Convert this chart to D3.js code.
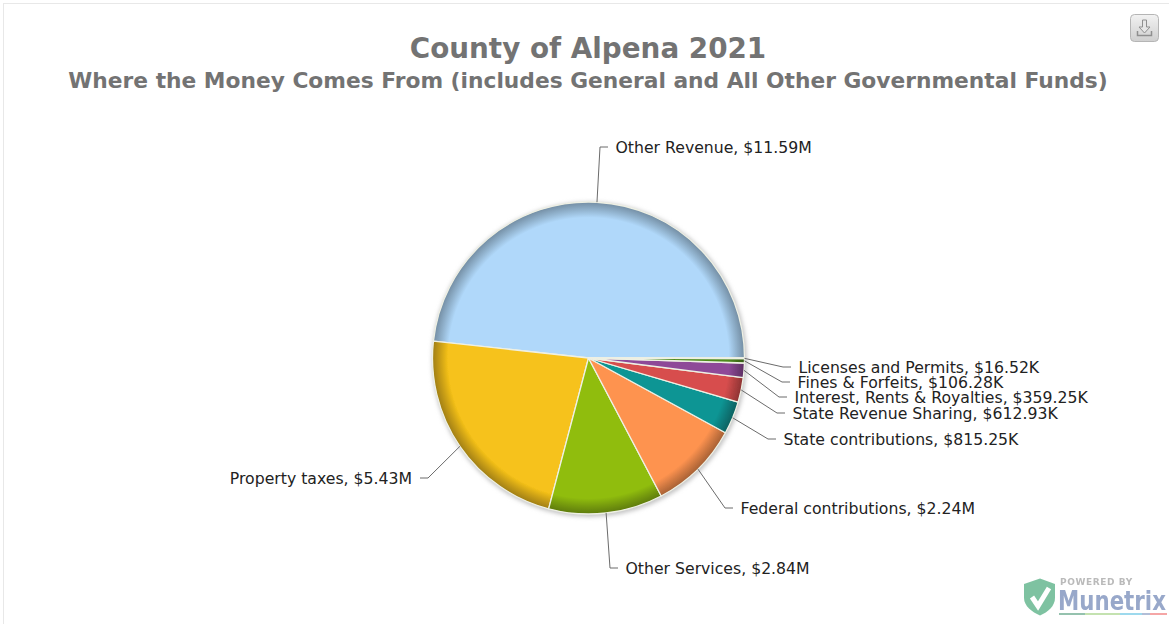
<!DOCTYPE html>
<html>
<head>
<meta charset="utf-8">
<script src="https://cdn.jsdelivr.net/npm/d3@7/dist/d3.min.js"></script>
<style>
html,body{margin:0;padding:0;background:#fff;overflow:hidden}
svg{display:block}
text{font-family:"DejaVu Sans",Verdana,sans-serif}
</style>
</head>
<body>
<svg id="chart" width="1169" height="624"></svg>
<script>
const categories = ["Other Revenue","Property taxes","Other Services","Federal contributions","State contributions","State Revenue Sharing","Interest, Rents & Royalties","Fines & Forfeits","Licenses and Permits"];
const values = [11590000,5430000,2840000,2240000,815250,612930,359250,106280,16520];
const valueLabels = ["$11.59M","$5.43M","$2.84M","$2.24M","$815.25K","$612.93K","$359.25K","$106.28K","$16.52K"];
const colors = ["#b0d8fa","#f6c21a","#90bd0c","#fe9350","#0e9594","#d74e4e","#8e4a98","#4e8a1e","#d3e2a0"];
const titleText = "County of Alpena 2021";
const subtitleText = "Where the Money Comes From (includes General and All Other Governmental Funds)";

// Hand-placed label elbows: x/y of the bend and which side the text sits on.
const elbowX = [600,428,610,725,768,777,779,782,783];
const elbowY = [147,478,568,508,439,413,397,382,367];
const side   = [1,-1,1,1,1,1,1,1,1];

const cx = 588.5, cy = 358, R = 156;
const svg = d3.select("#chart");
const defs = svg.append("defs");

// Soft shadow beneath the pie
const shadow = defs.append("filter").attr("id","pieShadow")
  .attr("x","-10%").attr("y","-10%").attr("width","120%").attr("height","120%");
shadow.append("feGaussianBlur").attr("stdDeviation",2);
const soft = defs.append("filter").attr("id","soft");
soft.append("feGaussianBlur").attr("stdDeviation",0.4);
const logoBlur = defs.append("filter").attr("id","logoBlur");
logoBlur.append("feGaussianBlur").attr("stdDeviation",0.5);

// Frame
svg.append("line").attr("x1",3).attr("x2",1169).attr("y1",3.5).attr("y2",3.5).attr("stroke","#e8e8e8");
svg.append("line").attr("x1",3.5).attr("x2",3.5).attr("y1",3).attr("y2",624).attr("stroke","#e8e8e8");

// Titles
svg.append("text").attr("x",588).attr("y",58).attr("text-anchor","middle")
  .attr("font-size",27.8).attr("font-weight","bold").attr("fill","#737373").text(titleText);
svg.append("text").attr("x",588).attr("y",88).attr("text-anchor","middle")
  .attr("font-size",21.75).attr("font-weight","bold").attr("fill","#737373").text(subtitleText);

// Pie runs counter-clockwise from due east
const pie = d3.pie().sort(null).startAngle(Math.PI/2).endAngle(-3*Math.PI/2);
const arcs = pie(values);
const arc = d3.arc().innerRadius(0).outerRadius(R);

// One radial gradient per slice gives the bevelled rim (slices are drawn around the origin)
colors.forEach((c,i)=>{
  const g = defs.append("radialGradient").attr("id","bevel"+i)
    .attr("gradientUnits","userSpaceOnUse").attr("cx",0).attr("cy",0).attr("r",R);
  const base = d3.color(c);
  [[0,base],[0.9,base],[0.95,base.darker(0.55)],[1,base.darker(1.2)]].forEach(([o,col])=>{
    g.append("stop").attr("offset",o).attr("stop-color",col.formatHex());
  });
});

const plot = svg.append("g");
plot.append("circle").attr("cx",cx+1).attr("cy",cy+1.5).attr("r",R+1.5)
  .attr("fill","#c4c4c4").attr("filter","url(#pieShadow)");

const slices = plot.append("g").attr("transform",`translate(${cx},${cy})`).attr("filter","url(#soft)");
slices.selectAll("path").data(arcs).join("path")
  .attr("d",arc)
  .attr("fill",(d,i)=>`url(#bevel${i})`)
  .attr("stroke","#eef0e4").attr("stroke-width",1.3).attr("stroke-linejoin","round");

// Leader lines and labels
const rim = d3.arc().innerRadius(R).outerRadius(R);
const labels = svg.append("g");
arcs.forEach((d,i)=>{
  const [px,py] = rim.centroid(d);
  const ex = elbowX[i], ey = elbowY[i], s = side[i];
  labels.append("path")
    .attr("d",d3.line()([[cx+px,cy+py],[ex,ey],[ex+8*s,ey]]))
    .attr("fill","none").attr("stroke","#6b6b6b").attr("stroke-width",1);
  labels.append("text")
    .attr("x",ex+(s>0?15.5:-16)).attr("y",ey+5.9)
    .attr("text-anchor",s>0?"start":"end")
    .attr("font-size",15.7).attr("fill","#222222")
    .text(`${categories[i]}, ${valueLabels[i]}`);
});

// Export button
const btn = svg.append("g").attr("transform","translate(1130,14)");
const btnGrad = defs.append("linearGradient").attr("id","btnFill").attr("x1",0).attr("x2",0).attr("y1",0).attr("y2",1);
btnGrad.append("stop").attr("offset",0).attr("stop-color","#f2f2f2");
btnGrad.append("stop").attr("offset",1).attr("stop-color","#cfcfcf");
btn.append("rect").attr("x",0.5).attr("y",0.5).attr("width",28).attr("height",27).attr("rx",4)
  .attr("fill","url(#btnFill)").attr("stroke","#b5b5b5");
btn.append("path").attr("d","M12.500 6H16.500V13H20L14.500 19L9 13H12.500Z").attr("fill","#e6e6e6").attr("stroke","#8f8f8f");
btn.append("path").attr("d","M7.500 17V21.500H21.500V17").attr("fill","none").attr("stroke","#8f8f8f").attr("stroke-width",1.5);

// Vendor mark, bottom right
const logo = svg.append("g").attr("opacity",0.8).attr("filter","url(#logoBlur)");
logo.append("path")
  .attr("d","M1040 578.500L1055 584V598C1055 606 1048 612 1040 615.500C1032 612 1024 606 1024 598V584Z")
  .attr("fill","#5fb48a");
logo.append("path").attr("d","M1032 597L1038 606L1049 588")
  .attr("fill","none").attr("stroke","#ffffff").attr("stroke-width",5);
logo.append("text").attr("x",1060).attr("y",584.500).attr("font-size",9).attr("font-weight","bold")
  .attr("font-family","'Liberation Sans',sans-serif")
  .attr("letter-spacing",0.6).attr("fill","#a9a9a9").text("POWERED BY");
// Wordmark is squeezed horizontally so it stays clear of the right edge
const word = logo.append("text").attr("font-size",26).attr("font-weight","bold")
  .attr("font-family","'Liberation Sans',sans-serif").attr("fill","#7f93bd").text("Munetrix");
word.attr("transform",`translate(1058,610) scale(${108/word.node().getComputedTextLength()},1)`);
[["#4f9a78",1059,1085],["#9ccf7b",1085,1120],["#5cbfe0",1120,1142],["#7f93bd",1142,1150],["#ef6b6b",1150,1167]].forEach(([c,a,b])=>{
  logo.append("line").attr("x1",a).attr("x2",b).attr("y1",614).attr("y2",614).attr("stroke",c).attr("stroke-width",1.5);
});
</script>
</body>
</html>
